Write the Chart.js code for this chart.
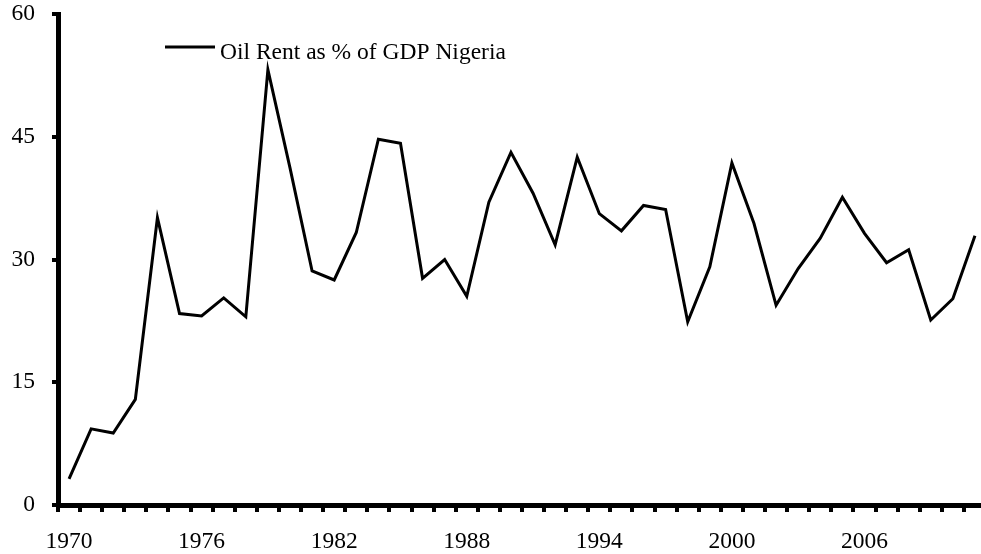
<!DOCTYPE html>
<html>
<head>
<meta charset="utf-8">
<script src="https://cdn.jsdelivr.net/npm/chart.js@4.4.1/dist/chart.umd.min.js"></script>
<style>
  html, body { margin: 0; padding: 0; background: #fff; overflow: hidden; }
  #wrap { width: 981px; height: 554px; overflow: hidden; }
</style>
</head>
<body>
<div id="wrap"><canvas id="myChart" width="986" height="554"></canvas></div>
<script>
// 데이터
const years = [];
for (let y = 1970; y <= 2011; y++) years.push(String(y));

const oilRent = [
  3.2, 9.3, 8.8, 12.9, 35.1, 23.4, 23.1, 25.3, 23.0, 53.2,
  41.2, 28.6, 27.5, 33.3, 44.7, 44.2, 27.7, 30.0, 25.5, 37.0,
  43.1, 38.1, 31.8, 42.5, 35.6, 33.5, 36.6, 36.1, 22.4, 29.1,
  41.8, 34.4, 24.4, 28.9, 32.6, 37.6, 33.2, 29.6, 31.2, 22.6,
  25.2, 32.9
];

const yTicks = [0, 15, 30, 45, 60];
const seriesLabel = 'Oil Rent as % of GDP Nigeria';

const serif = "'Liberation Serif', 'DejaVu Serif', serif";
const fontSize = 23.5;

// 범례 (직접 그림)
const legendPlugin = {
  id: 'lineLegend',
  afterDraw(chart) {
    const c = chart.ctx;
    const ds = chart.data.datasets[0];
    c.save();
    c.strokeStyle = '#000';
    c.lineWidth = 3;
    c.beginPath();
    c.moveTo(165, 47);
    c.lineTo(215, 47);
    c.stroke();
    c.fillStyle = '#000';
    c.font = fontSize + 'px ' + serif;
    c.textBaseline = 'middle';
    c.fillText(ds.label, 220, 53);
    c.restore();
  }
};

const ctx = document.querySelector('#myChart');

new Chart(ctx, {
  type: 'line',
  data: {
    labels: years,
    datasets: [
      {
        label: seriesLabel,
        data: oilRent,
        borderColor: '#000',
        borderWidth: 3,
        pointRadius: 0,
        tension: 0,
        fill: false
      }
    ]
  },
  options: {
    responsive: false,
    animation: false,
    layout: { padding: 0 },
    plugins: {
      legend: { display: false },
      tooltip: { enabled: false }
    },
    scales: {
      x: {
        offset: true,
        afterFit: (axis) => {
          axis.height = 49;
          axis.paddingLeft = 0;
          axis.paddingRight = 0;
        },
        grid: {
          offset: true,
          drawOnChartArea: false,
          drawTicks: true,
          tickLength: 7,
          color: '#000',
          lineWidth: 4
        },
        border: { color: '#000', width: 5 },
        ticks: {
          autoSkip: false,
          maxRotation: 0,
          padding: 16,
          color: '#000',
          font: { family: serif, size: fontSize },
          callback: function (v, i) {
            return i % 6 === 0 ? this.getLabelForValue(v) : '';
          }
        }
      },
      y: {
        min: 0,
        max: 60,
        afterBuildTicks: (axis) => {
          axis.ticks = yTicks.map(v => ({ value: v }));
        },
        afterFit: (axis) => {
          axis.width = 58;
          axis.paddingTop = 14;
          axis.paddingBottom = 0;
        },
        grid: {
          drawOnChartArea: false,
          drawTicks: true,
          tickLength: 6,
          color: '#000',
          lineWidth: 4
        },
        border: { color: '#000', width: 5 },
        ticks: {
          padding: 17,
          color: '#000',
          font: { family: serif, size: fontSize }
        }
      }
    }
  },
  plugins: [legendPlugin]
});
</script>
</body>
</html>
